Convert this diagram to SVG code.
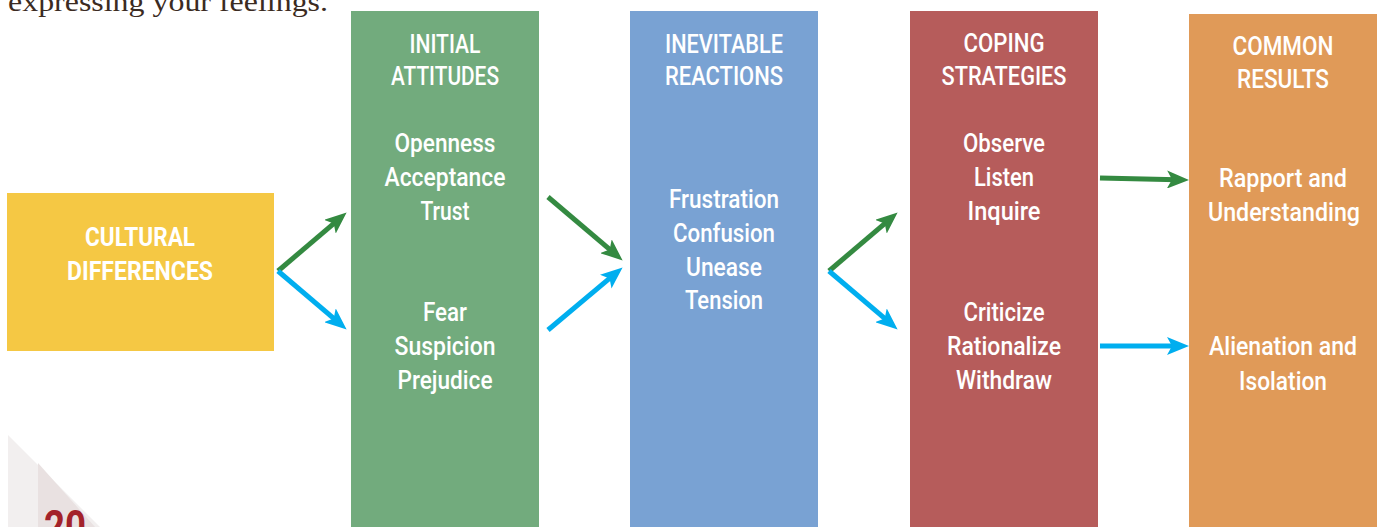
<svg xmlns="http://www.w3.org/2000/svg" width="1377" height="527" viewBox="0 0 1377 527">
<style>
.t{font-family:Roboto,"Liberation Sans",sans-serif;fill:#fff;text-anchor:middle;font-weight:500}
.h{font-size:26px}
.b{font-size:25px}
.y{font-size:26px;font-weight:700}
.g{stroke:#348a41;stroke-width:5;fill:none;marker-end:url(#ag)}
.c{stroke:#00aeef;stroke-width:5;fill:none;marker-end:url(#ac)}
</style>
<defs>
<marker id="ag" viewBox="0 0 22 18" refX="10" refY="9" markerWidth="22" markerHeight="18" markerUnits="userSpaceOnUse" orient="auto"><path d="M0,0 L22,9 L0,18 L5,9 z" fill="#348a41"/></marker>
<marker id="ac" viewBox="0 0 22 18" refX="10" refY="9" markerWidth="22" markerHeight="18" markerUnits="userSpaceOnUse" orient="auto"><path d="M0,0 L22,9 L0,18 L5,9 z" fill="#00aeef"/></marker>
</defs>
<rect width="1377" height="527" fill="#fff"/>
<text x="8" y="11" font-family="'Liberation Serif',serif" font-size="28" fill="#3b2b22" textLength="320" lengthAdjust="spacingAndGlyphs">expressing your feelings.</text>
<g id="page-corner">
<polygon points="8,435 8,527 100,527" fill="#f2efef"/>
<polygon points="38,463 38,527 95,527" fill="#e9e1e1"/>
<text x="44" y="542" font-family="Roboto,'Liberation Sans',sans-serif" font-weight="700" font-size="44" fill="#a3222a" textLength="42" lengthAdjust="spacingAndGlyphs">20</text>
</g>
<g id="cultural-differences">
<rect x="7" y="193" width="267" height="158" fill="#f5c844"/>
<text class="t y" x="140" y="246" textLength="110" lengthAdjust="spacingAndGlyphs">CULTURAL</text>
<text class="t y" x="140" y="280" textLength="146" lengthAdjust="spacingAndGlyphs">DIFFERENCES</text>
</g>
<g id="initial-attitudes">
<rect x="351" y="11" width="188" height="516" fill="#72ab7d"/>
<text class="t h" x="445" y="53" textLength="71" lengthAdjust="spacingAndGlyphs">INITIAL</text>
<text class="t h" x="445" y="85" textLength="108" lengthAdjust="spacingAndGlyphs">ATTITUDES</text>
<text class="t b" x="445" y="152" textLength="101" lengthAdjust="spacingAndGlyphs">Openness</text>
<text class="t b" x="445" y="186" textLength="121" lengthAdjust="spacingAndGlyphs">Acceptance</text>
<text class="t b" x="445" y="220" textLength="49" lengthAdjust="spacingAndGlyphs">Trust</text>
<text class="t b" x="445" y="321" textLength="44" lengthAdjust="spacingAndGlyphs">Fear</text>
<text class="t b" x="445" y="355" textLength="101" lengthAdjust="spacingAndGlyphs">Suspicion</text>
<text class="t b" x="445" y="389" textLength="95" lengthAdjust="spacingAndGlyphs">Prejudice</text>
</g>
<g id="inevitable-reactions">
<rect x="630" y="11" width="188" height="516" fill="#79a2d3"/>
<text class="t h" x="724" y="53" textLength="118" lengthAdjust="spacingAndGlyphs">INEVITABLE</text>
<text class="t h" x="724" y="85" textLength="118" lengthAdjust="spacingAndGlyphs">REACTIONS</text>
<text class="t b" x="724" y="208" textLength="110" lengthAdjust="spacingAndGlyphs">Frustration</text>
<text class="t b" x="724" y="242" textLength="102" lengthAdjust="spacingAndGlyphs">Confusion</text>
<text class="t b" x="724" y="276" textLength="76" lengthAdjust="spacingAndGlyphs">Unease</text>
<text class="t b" x="724" y="309" textLength="78" lengthAdjust="spacingAndGlyphs">Tension</text>
</g>
<g id="coping-strategies">
<rect x="910" y="11" width="188" height="516" fill="#b65c5b"/>
<text class="t h" x="1004" y="52" textLength="81" lengthAdjust="spacingAndGlyphs">COPING</text>
<text class="t h" x="1004" y="85" textLength="125" lengthAdjust="spacingAndGlyphs">STRATEGIES</text>
<text class="t b" x="1004" y="152" textLength="82" lengthAdjust="spacingAndGlyphs">Observe</text>
<text class="t b" x="1004" y="186" textLength="60" lengthAdjust="spacingAndGlyphs">Listen</text>
<text class="t b" x="1004" y="220" textLength="73" lengthAdjust="spacingAndGlyphs">Inquire</text>
<text class="t b" x="1004" y="321" textLength="81" lengthAdjust="spacingAndGlyphs">Criticize</text>
<text class="t b" x="1004" y="355" textLength="114" lengthAdjust="spacingAndGlyphs">Rationalize</text>
<text class="t b" x="1004" y="389" textLength="96" lengthAdjust="spacingAndGlyphs">Withdraw</text>
</g>
<g id="common-results">
<rect x="1189" y="14" width="188" height="513" fill="#e09a58"/>
<text class="t h" x="1283" y="55" textLength="101" lengthAdjust="spacingAndGlyphs">COMMON</text>
<text class="t h" x="1283" y="88" textLength="92" lengthAdjust="spacingAndGlyphs">RESULTS</text>
<text class="t b" x="1283" y="187" textLength="128" lengthAdjust="spacingAndGlyphs">Rapport and</text>
<text class="t b" x="1284" y="221" textLength="152" lengthAdjust="spacingAndGlyphs">Understanding</text>
<text class="t b" x="1283" y="355" textLength="148" lengthAdjust="spacingAndGlyphs">Alienation and</text>
<text class="t b" x="1283" y="390" textLength="88" lengthAdjust="spacingAndGlyphs">Isolation</text>
</g>
<g id="connectors">
<path class="g" d="M278,271 L337.5,220.3"/>
<path class="c" d="M278,271 L337.5,321.7"/>
<path class="g" d="M548,197 L613.5,252.7"/>
<path class="c" d="M548,330 L613.4,275.2"/>
<path class="g" d="M829,271 L888.5,220.3"/>
<path class="c" d="M829,271 L888.5,321.7"/>
<path class="g" d="M1100,178 L1177,179.7"/>
<path class="c" d="M1100,346 L1177,346"/>
</g>
</svg>
